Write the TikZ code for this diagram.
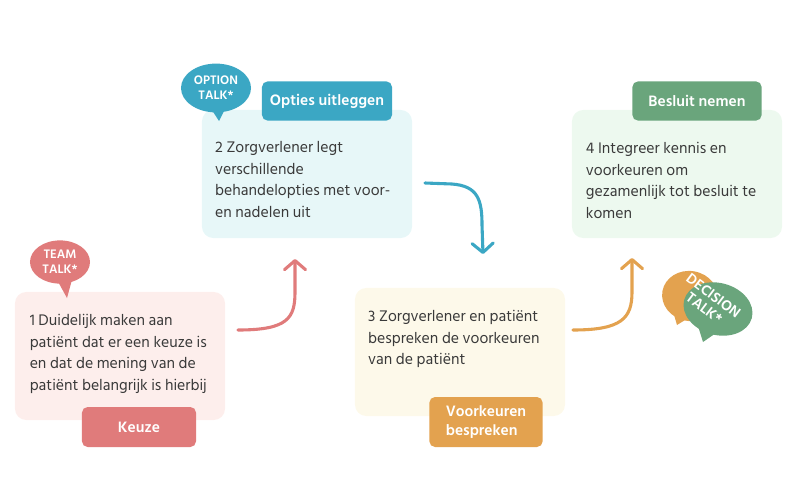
\documentclass[tikz,border=0pt]{standalone}
\usepackage{fontspec}
\setmainfont{Hind Siliguri}
\usetikzlibrary{shapes.geometric,arrows.meta,positioning}

\definecolor{keuzeRood}{HTML}{E07B7B}
\definecolor{keuzeBg}{HTML}{FDEEEC}
\definecolor{optieBlauw}{HTML}{3BA7C4}
\definecolor{optieBg}{HTML}{E7F7F8}
\definecolor{voorkOranje}{HTML}{E3A24F}
\definecolor{voorkBg}{HTML}{FDF9EA}
\definecolor{besluitGroen}{HTML}{6AA57C}
\definecolor{besluitBg}{HTML}{EDF9EF}
\definecolor{tekstGrijs}{HTML}{3A3A3A}

\begin{document}
\begin{tikzpicture}[x=0.025cm, y=-0.025cm,
  stap/.style = {rounded corners=8pt, minimum width=5.25cm, minimum height=3.2cm},
  kop/.style = {rounded corners=4pt, text=white, inner sep=0pt, font=\bfseries\fontsize{11}{13}\selectfont},
  uitleg/.style = {inner sep=0pt, align=left, text=tekstGrijs, font=\fontsize{11.2}{15.5}\selectfont},
  ballon/.style = {ellipse, inner sep=0pt, text=white, align=center, font=\bfseries\fontsize{9}{10.5}\selectfont},
  pijl/.style = {line width=2.2pt, line cap=round, -{Straight Barb[length=6.5pt, width=15pt, round]}}]
\useasboundingbox (0,0) rectangle (800,500);

% stappen
\node[stap, fill=keuzeBg] (stap1) at (120,356) {};
\node[stap, fill=optieBg] (stap2) at (307,174) {};
\node[stap, fill=voorkBg] (stap3) at (460,352) {};
\node[stap, fill=besluitBg] (stap4) at (677,174) {};

\node[uitleg] (tekst1) [below right=0.55cm and 0.37cm of stap1.north west] {1 Duidelijk maken aan\\patiënt dat er een keuze is\\en dat de mening van de\\patiënt belangrijk is hierbij};
\node[uitleg] (tekst2) [below right=0.78cm and 0.33cm of stap2.north west] {2 Zorgverlener legt\\verschillende\\behandelopties met voor-\\en nadelen uit};
\node[uitleg] (tekst3) [below right=0.55cm and 0.33cm of stap3.north west] {3 Zorgverlener en patiënt\\bespreken de voorkeuren\\van de patiënt};
\node[uitleg] (tekst4) [below right=0.8cm and 0.35cm of stap4.north west] {4 Integreer kennis en\\voorkeuren om\\gezamenlijk tot besluit te\\komen};

% koppen
\node[kop, fill=keuzeRood, minimum width=2.85cm, minimum height=1cm] (kop1) at (139,427) {Keuze};
\node[kop, fill=optieBlauw, minimum width=3.25cm, minimum height=0.98cm] (kop2) at (327,101) {Opties uitleggen};
\node[kop, fill=voorkOranje, minimum width=2.83cm, minimum height=1.25cm, align=left] (kop3) at (486,422) {Voorkeuren\\bespreken};
\node[kop, fill=besluitGroen, minimum width=3.23cm, minimum height=0.98cm] (kop4) at (697,101) {Besluit nemen};

% ballonnen
\fill[keuzeRood] (56,278) -- (67,298) -- (73,276) -- cycle;
\node[ballon, fill=keuzeRood, minimum width=1.5cm, minimum height=1.08cm] (team) at (60,262) {TEAM\\TALK*};
\fill[optieBlauw] (208,104) -- (219,121) -- (227,105) -- cycle;
\node[ballon, fill=optieBlauw, minimum width=1.75cm, minimum height=1.22cm] (optie) at (216,88) {OPTION\\TALK*};
\fill[voorkOranje] (672,308) -- (677,325) -- (690,317) -- cycle;
\node[ballon, fill=voorkOranje, minimum width=1.4cm, minimum height=1.25cm, rotate=-10] (besl1) at (690,296) {};
\fill[besluitGroen] (698,326) -- (703,342) -- (716,333) -- cycle;
\node[ballon, fill=besluitGroen, minimum width=1.75cm, minimum height=1.3cm, rotate=-15] (besl2) at (718,309) {};
\node[ballon, rotate=-37, font=\bfseries\fontsize{10.5}{11}\selectfont] (besl) at (709,302) {DECISION\\TALK*};

% pijlen
\coordinate (p1s) at (238,330);
\coordinate (p1e) at (295,259);
\coordinate (p2s) at (425,183);
\coordinate (p2e) at (483,254);
\coordinate (p3s) at (573,330);
\coordinate (p3e) at (632,258);
\draw[pijl, keuzeRood] (p1s) .. controls (288,330) and (295,318) .. (295,292) -- (p1e);
\draw[pijl, optieBlauw] (p2s) -- (452,184) .. controls (478,186) and (482,200) .. (482,225) -- (p2e);
\draw[pijl, voorkOranje] (p3s) .. controls (622,330) and (632,318) .. (632,292) -- (p3e);
\end{tikzpicture}
\end{document}
